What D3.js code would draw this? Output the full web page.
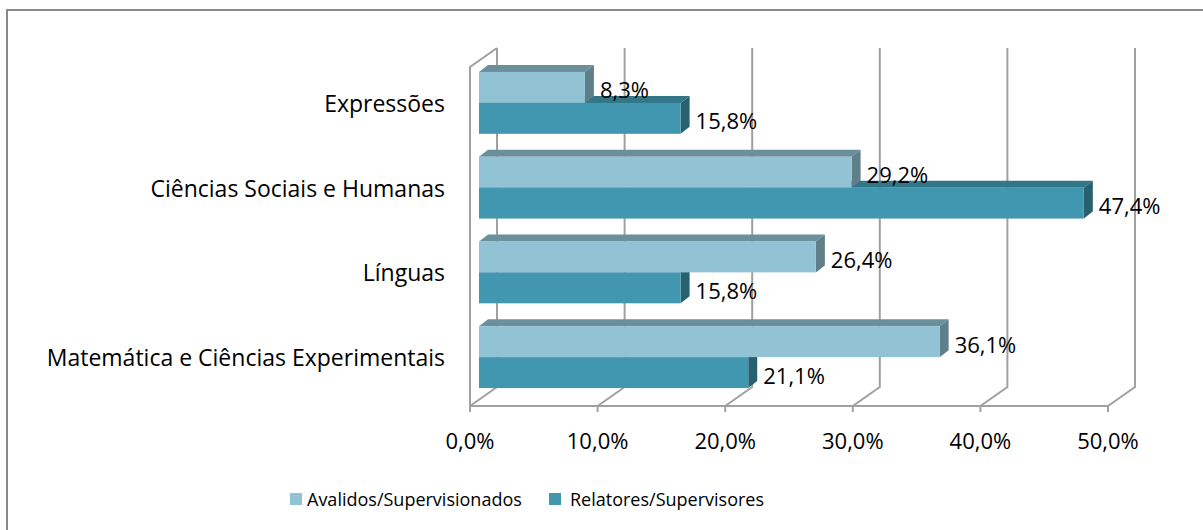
<!DOCTYPE html>
<html>
<head>
<meta charset="utf-8">
<script src="https://cdn.jsdelivr.net/npm/d3@7"></script>
<style>
  body { margin: 0; background: #fff; }
  text { font-family: "Open Sans", "Noto Sans", sans-serif; fill: #000; }
</style>
</head>
<body>
<div id="chart"></div>
<script>
// data
var categories = ["Expressões", "Ciências Sociais e Humanas", "Línguas", "Matemática e Ciências Experimentais"];
var series = ["Avalidos/Supervisionados", "Relatores/Supervisores"];
var avalidos = [8.3, 29.2, 26.4, 36.1];
var relatores = [15.8, 47.4, 15.8, 21.1];
var ticks = [0, 10, 20, 30, 40, 50];

var W = 1203, H = 530;

// colours per series: front, top, side
var colors = {
  "Avalidos/Supervisionados": {front: "#92c3d4", top: "#6b909c", side: "#5f7f8a"},
  "Relatores/Supervisores": {front: "#4197b0", top: "#327687", side: "#27616f"}
};

var svg = d3.select("#chart")
  .append("svg")
    .attr("width", W)
    .attr("height", H);

svg.append("rect").attr("width", W).attr("height", H).attr("fill", "#fff");

// outer frame (right and bottom edges fall outside the picture)
svg.append("rect")
  .attr("x", 7).attr("y", 10)
  .attr("width", W).attr("height", H)
  .attr("fill", "none")
  .attr("stroke", "#898989")
  .attr("stroke-width", 2);

// plot geometry (front plane) and the depth offset
var plot = {left: 470, right: 1108, top: 67, bottom: 406};
var depth = {dx: 27, dy: -19};
var bar = {dx: 9, dy: -6.5, ddx: 9, ddy: -7}; // bar front offset and bar thickness

var x = d3.scaleLinear().domain([0, 50]).range([plot.left, plot.right]);

var y = d3.scaleBand()
  .domain(categories)
  .range([plot.top, plot.bottom])
  .paddingInner(0.27)
  .paddingOuter(0.135);

var ySub = d3.scaleBand()
  .domain(series)
  .range([0, y.bandwidth()]);

var gridColor = "#a0a0a0";
var grid = svg.append("g")
  .attr("stroke", gridColor)
  .attr("stroke-width", 2)
  .attr("fill", "none");

// back wall verticals + floor diagonals
ticks.forEach(function(t) {
  grid.append("path")
    .attr("d", d3.line()([
      [x(t), plot.bottom],
      [x(t) + depth.dx, plot.bottom + depth.dy],
      [x(t) + depth.dx, plot.top + depth.dy]
    ]));
});

// left wall
grid.append("path")
  .attr("d", d3.line()([
    [plot.left, plot.bottom],
    [plot.left, plot.top],
    [plot.left + depth.dx, plot.top + depth.dy]
  ]));

// bars: build list, draw lower bars first
var bars = [];
categories.forEach(function(c, i) {
  bars.push({cat: c, s: series[0], v: avalidos[i]});
  bars.push({cat: c, s: series[1], v: relatores[i]});
});
bars.forEach(function(d) {
  d.x0 = x(0) + bar.dx;
  d.x1 = x(d.v) + bar.dx;
  d.y0 = y(d.cat) + ySub(d.s) + bar.dy;
  d.y1 = d.y0 + ySub.bandwidth();
});
bars.sort(function(a, b) { return b.y0 - a.y0; });

var gBars = svg.append("g");
bars.forEach(function(d) {
  var c = colors[d.s];
  var g = gBars.append("g");
  // top face
  g.append("path")
    .attr("d", d3.line()([
      [d.x0, d.y0], [d.x0 + bar.ddx, d.y0 + bar.ddy],
      [d.x1 + bar.ddx, d.y0 + bar.ddy], [d.x1, d.y0]
    ]) + "Z")
    .attr("fill", c.top);
  // side face
  g.append("path")
    .attr("d", d3.line()([
      [d.x1, d.y0], [d.x1 + bar.ddx, d.y0 + bar.ddy],
      [d.x1 + bar.ddx, d.y1 + bar.ddy], [d.x1, d.y1]
    ]) + "Z")
    .attr("fill", c.side);
  // front face
  g.append("rect")
    .attr("x", d.x0)
    .attr("y", d.y0)
    .attr("width", d.x1 - d.x0)
    .attr("height", d.y1 - d.y0)
    .attr("fill", c.front);
});

// front floor edge and ticks
var axis = svg.append("g")
  .attr("stroke", gridColor)
  .attr("stroke-width", 2);
axis.append("line")
  .attr("x1", x(0)).attr("x2", x(50))
  .attr("y1", plot.bottom).attr("y2", plot.bottom);
axis.selectAll(".tick")
  .data(ticks)
  .enter()
  .append("line")
    .attr("x1", function(d) { return x(d); })
    .attr("x2", function(d) { return x(d); })
    .attr("y1", plot.bottom)
    .attr("y2", plot.bottom + 6);

var fmt = function(v) { return v.toFixed(1).replace(".", ",") + "%"; };

// tick labels
svg.selectAll(".tlabel")
  .data(ticks)
  .enter()
  .append("text")
    .attr("x", function(d) { return x(d); })
    .attr("y", 440)
    .attr("text-anchor", "middle")
    .attr("dominant-baseline", "central")
    .style("font-size", "22px")
    .text(fmt);

// category labels
svg.selectAll(".clabel")
  .data(categories)
  .enter()
  .append("text")
    .attr("x", 445)
    .attr("y", function(d) { return y(d) + y.bandwidth() / 2 + bar.dy; })
    .attr("text-anchor", "end")
    .attr("dominant-baseline", "central")
    .style("font-size", "23px")
    .text(function(d) { return d; });

// value labels
bars.forEach(function(d) {
  svg.append("text")
    .attr("x", d.x1 + bar.ddx + 6)
    .attr("y", (d.y0 + d.y1) / 2 + 2)
    .attr("dominant-baseline", "central")
    .style("font-size", "22px")
    .text(fmt(d.v));
});

// legend
var legend = svg.append("g");
var legendX = [290, 549];
series.forEach(function(s, i) {
  legend.append("rect")
    .attr("x", legendX[i]).attr("y", 493)
    .attr("width", 12).attr("height", 12)
    .attr("fill", colors[s].front);
  legend.append("text")
    .attr("x", legendX[i] + (i === 0 ? 17 : 21))
    .attr("y", 499)
    .attr("dominant-baseline", "central")
    .style("font-size", "18px")
    .text(s);
});
</script>
</body>
</html>
